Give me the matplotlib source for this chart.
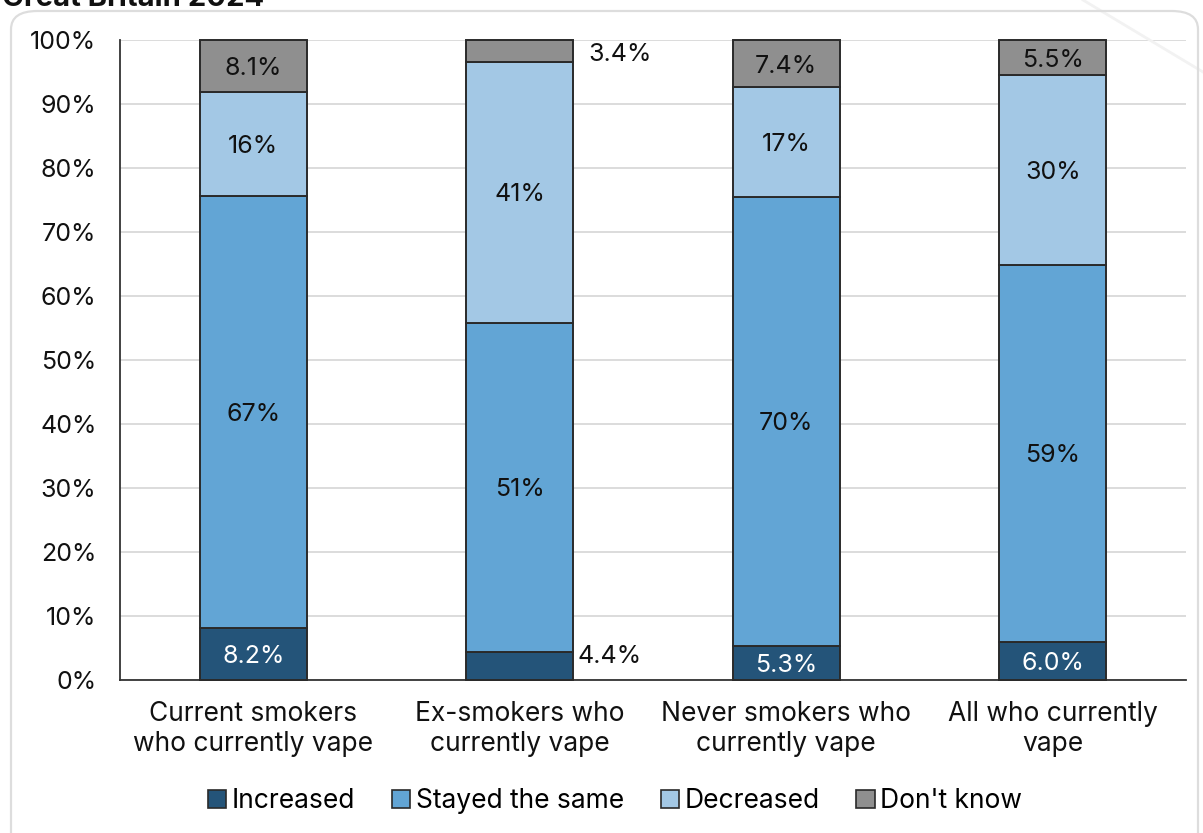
import matplotlib
matplotlib.use("Agg")
import matplotlib.pyplot as plt
from matplotlib.patches import FancyBboxPatch, Patch
from matplotlib.lines import Line2D
import numpy as np

plt.rcParams["font.family"] = ["Inter", "DejaVu Sans"]

categories = [
    "Current smokers\nwho currently vape",
    "Ex-smokers who\ncurrently vape",
    "Never smokers who\ncurrently vape",
    "All who currently\nvape",
]
series_names = ["Increased", "Stayed the same", "Decreased", "Don't know"]
increased = [8.2, 4.4, 5.3, 6.0]
stayed_same = [67.4, 51.4, 70.2, 58.8]
decreased = [16.3, 40.8, 17.1, 29.7]
dont_know = [8.1, 3.4, 7.4, 5.5]
yticks = [0, 10, 20, 30, 40, 50, 60, 70, 80, 90, 100]

colors = ["#245479", "#62a5d5", "#a3c8e5", "#8f8f8f"]
text_colors = ["white", "#111111", "#111111", "#111111"]
edge = "#2a2a2a"
FS = 19      # category and legend text
FS_NUM = 18  # numbers

W, H = 1203, 833
fig = plt.figure(figsize=(W / 100, H / 100), dpi=100)

# rounded frame around the chart
frame = FancyBboxPatch((11 / W, -40 / H), (1187) / W, (822 + 40) / H,
                       boxstyle="round,pad=0,rounding_size=0.022",
                       transform=fig.transFigure, facecolor="none",
                       edgecolor="#dddddd", linewidth=1.6, zorder=0)
fig.patches.append(frame)
fig.lines.append(Line2D([1083 / W, 1.0], [1.0, 1 - 72 / H], transform=fig.transFigure,
                        color="#f2f2f2", linewidth=2.0, zorder=0))

# heading, running off the top edge
fig.text(2 / W, 1 - 6 / H, "Great Britain 2024", fontsize=21, fontweight="bold",
         ha="left", va="baseline", color="#111111")

ax = fig.add_axes([120 / W, 1 - 680 / H, (1186 - 120) / W, 640 / H])

x = np.arange(len(categories))
series = [increased, stayed_same, decreased, dont_know]
bottom = np.zeros(len(categories))
width = 0.4
for si, (name, vals) in enumerate(zip(series_names, series)):
    vals = np.array(vals)
    bars = ax.bar(x, vals, width, bottom=bottom, color=colors[si], edgecolor=edge,
                  linewidth=1.4, label=name, zorder=3, clip_on=False)
    for xi, (v, bt) in enumerate(zip(vals, bottom)):
        txt = f"{v:.1f}%" if v < 10 else f"{v:.0f}%"
        if v < 5:
            # small segments get their label beside the bar
            off = (3, 5) if si == 0 else (11, -2)
            ax.annotate(txt, (xi + width / 2, bt + v), xytext=off,
                        textcoords="offset points", ha="left", va="top",
                        fontsize=FS_NUM, color="#111111")
        else:
            ax.text(xi, bt + v / 2, txt, ha="center", va="center_baseline",
                    fontsize=FS_NUM, color=text_colors[si], zorder=4)
    bottom = bottom + vals

ax.set_xlim(-0.5, len(categories) - 0.5)
ax.set_ylim(0, 100)
ax.set_yticks(yticks)
ax.set_yticklabels([f"{t}%" for t in yticks], fontsize=FS_NUM, color="#111111")
ax.set_xticks(x)
ax.set_xticklabels(categories, fontsize=FS, color="#111111", linespacing=1.22)
ax.tick_params(axis="both", length=0)
ax.tick_params(axis="y", pad=17)
ax.tick_params(axis="x", pad=15)
ax.grid(axis="y", color="#d9d9d9", linewidth=1.3, zorder=0)
ax.set_axisbelow(True)
for s in ["top", "right"]:
    ax.spines[s].set_visible(False)
ax.spines["left"].set_color("#333333")
ax.spines["bottom"].set_color("#333333")
ax.spines["left"].set_linewidth(1.3)
ax.spines["bottom"].set_linewidth(1.3)

handles = [Patch(facecolor=c, edgecolor=edge, linewidth=1.2) for c in colors]
fig.legend(handles, series_names, loc="center", bbox_to_anchor=(615 / W, 1 - 801 / H),
           ncol=4, frameon=False, fontsize=FS, handlelength=0.7, handleheight=0.7,
           handletextpad=0.2, columnspacing=1.4)

fig.savefig("out.png", dpi=100)
